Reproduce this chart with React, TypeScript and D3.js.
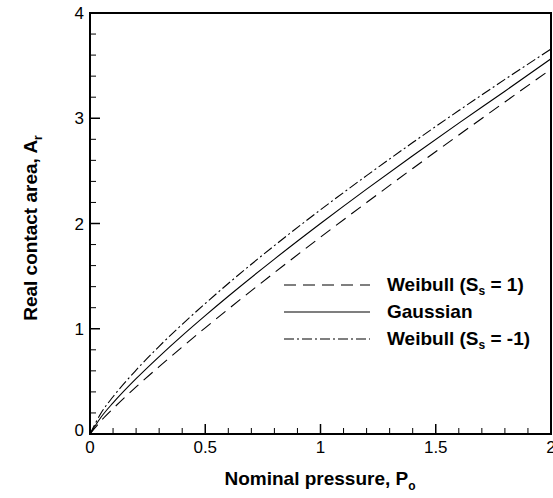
import React from "react";
import * as d3 from "d3";

const pressure = [0, 0.05, 0.1, 0.2, 0.3, 0.4, 0.5, 0.6, 0.8, 1.0, 1.2, 1.4, 1.6, 1.8, 2.0];
const weibullPos = [0, 0.13, 0.241, 0.447, 0.64, 0.827, 1.009, 1.187, 1.533, 1.87, 2.199, 2.523, 2.841, 3.155, 3.466];
const gaussian = [0, 0.166, 0.296, 0.526, 0.736, 0.935, 1.125, 1.309, 1.662, 2.0, 2.327, 2.644, 2.954, 3.257, 3.565];
const weibullNeg = [0, 0.206, 0.354, 0.607, 0.833, 1.042, 1.24, 1.43, 1.79, 2.13, 2.455, 2.769, 3.073, 3.369, 3.658];

const xMajorTicks = [0, 0.5, 1, 1.5, 2];
const xTickLabels = ["0", "0.5", "1", "1.5", "2"];
const yMajorTicks = [0, 1, 2, 3, 4];
const yTickLabels = ["0", "1", "2", "3", "4"];

const seriesNames = ["Weibull", "Gaussian", "Weibull"];
const seriesSub = ["s", "", "s"];
const seriesSuffix = [" = 1)", "", " = -1)"];
const seriesDash = ["12,7", "none", "10,3,2,3"];

const W = 553;
const H = 498;
const left = 90;
const right = 551;
const top = 13;
const bottom = 434;
const font = "'Liberation Sans', Arial, Helvetica, sans-serif";

export default function App() {
  const x = d3.scaleLinear().domain([0, 2]).range([left, right]);
  const y = d3.scaleLinear().domain([0, 4]).range([bottom, top]);
  const line = d3
    .line<number>()
    .x((_, i) => x(pressure[i]))
    .y((d) => y(d))
    .curve(d3.curveMonotoneX);

  const series = [weibullPos, gaussian, weibullNeg];
  const xMinor = d3.range(0, 2.0001, 0.1).filter((v) => Math.abs(v * 2 - Math.round(v * 2)) > 1e-6);
  const yMinor = d3.range(0, 4.0001, 0.2).filter((v) => Math.abs(v - Math.round(v)) > 1e-6);

  const legendX1 = 284;
  const legendX2 = 370;
  const legendTextX = 387;
  const legendY = [285, 312, 339];

  return (
    <svg
      width={W}
      height={H}
      style={{ position: "absolute", left: 0, top: 0, background: "#fff" }}
      fontFamily={font}
    >
      <rect x={0} y={0} width={W} height={H} fill="#fff" />
      <defs>
        <clipPath id="plot">
          <rect x={left} y={top} width={right - left} height={bottom - top} />
        </clipPath>
      </defs>
      <g clipPath="url(#plot)">
        {series.map((s, i) => (
          <path
            key={i}
            d={line(s) || ""}
            fill="none"
            stroke="#000"
            strokeWidth={1.1}
            strokeDasharray={seriesDash[i] === "none" ? undefined : seriesDash[i]}
          />
        ))}
      </g>
      {xMajorTicks.map((v) => (
        <line key={"xM" + v} x1={x(v)} x2={x(v)} y1={bottom} y2={bottom - 10} stroke="#000" strokeWidth={1.5} />
      ))}
      {xMinor.map((v) => (
        <line key={"xm" + v} x1={x(v)} x2={x(v)} y1={bottom} y2={bottom - 6} stroke="#000" strokeWidth={1} />
      ))}
      {yMajorTicks.map((v) => (
        <line key={"yM" + v} x1={left} x2={left + 10} y1={y(v)} y2={y(v)} stroke="#000" strokeWidth={1.5} />
      ))}
      {yMinor.map((v) => (
        <line key={"ym" + v} x1={left} x2={left + 6} y1={y(v)} y2={y(v)} stroke="#000" strokeWidth={1} />
      ))}
      <rect x={left} y={top} width={right - left} height={bottom - top} fill="none" stroke="#000" strokeWidth={2} />
      {xMajorTicks.map((v, i) => (
        <text key={"xl" + v} x={x(v)} y={bottom + 19} fontSize={17} textAnchor="middle">
          {xTickLabels[i]}
        </text>
      ))}
      {yMajorTicks.map((v, i) => (
        <text
          key={"yl" + v}
          x={left - 6}
          y={y(v) + 6 - (v === 0 ? 4 : 0)}
          fontSize={17}
          textAnchor="end"
        >
          {yTickLabels[i]}
        </text>
      ))}
      <text x={320} y={485} fontSize={19} fontWeight="bold" textAnchor="middle">
        Nominal pressure, P
        <tspan fontSize={12} dy={5}>o</tspan>
      </text>
      <text
        transform={`translate(37, 228) rotate(-90)`}
        fontSize={19}
        fontWeight="bold"
        textAnchor="middle"
      >
        Real contact area, A
        <tspan fontSize={12} dy={5}>r</tspan>
      </text>
      {seriesNames.map((n, i) => (
        <g key={"lg" + i}>
          <line
            x1={legendX1}
            x2={legendX2}
            y1={legendY[i]}
            y2={legendY[i]}
            stroke="#000"
            strokeWidth={1.1}
            strokeDasharray={seriesDash[i] === "none" ? undefined : seriesDash[i]}
          />
          <text x={legendTextX} y={legendY[i] + 6} fontSize={19} fontWeight="bold">
            {seriesSub[i] ? (
              <>
                {n + " (S"}
                <tspan fontSize={12} dy={4}>{seriesSub[i]}</tspan>
                <tspan dy={-4}>{seriesSuffix[i]}</tspan>
              </>
            ) : (
              n
            )}
          </text>
        </g>
      ))}
    </svg>
  );
}
